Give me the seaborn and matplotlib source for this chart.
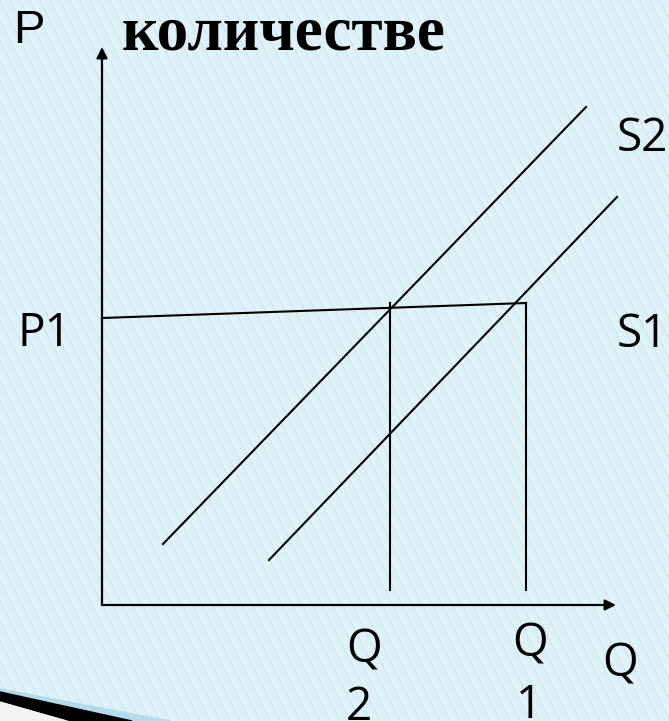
import numpy as np
import pandas as pd
import seaborn as sns
import matplotlib.pyplot as plt
from matplotlib.collections import LineCollection
from matplotlib.patches import Polygon

# Line segments in chart units (Q to the right, P up, origin at the corner of the axes)
seg_names = ['S2', 'S2', 'S1', 'S1', 'P1', 'P1', 'Q2', 'Q2', 'Q1', 'Q1']
seg_q = [61, 484, 167, 515, 0, 424, 288, 288, 424, 424]
seg_p = [61, 498, 45, 408, 287, 302, 302, 15, 302, 15]

# Axis arrow tips
q_tip = 514
p_tip = 558

# Labels: text, q, p (left edge / baseline)
label_text = ['P1', 'S1', 'S2', 'Q', '2', 'Q', '1', 'Q']
label_q = [-84, 515, 515, 244, 244, 410, 414, 500]
label_p = [259, 258, 454, -57, -115, -51, -113, -72]

title_text = 'количестве'
axis_p_label = 'P'

df = pd.DataFrame({'seg': seg_names, 'Q': seg_q, 'P': seg_p})

W, H = 669, 721
x0, y0 = 102, 605   # pixel position of the origin

fig = plt.figure(figsize=(W / 100, H / 100), dpi=100)
fig.patch.set_facecolor('#ddf2f8')
ax = fig.add_axes([0, 0, 1, 1])
ax.set_xlim(-x0, W - x0)
ax.set_ylim(y0 - H, y0)
ax.set_facecolor('#ddf2f8')
ax.axis('off')

# diagonal pattern of the slide background
starts = np.arange(-420, W + 10, 10)
t = np.array([0, H + 20])
stripes = [np.column_stack([s - x0 + 0.5 * t, y0 - t]) for s in starts]
hl = [np.column_stack([s - x0 + 2 + 0.5 * t, y0 - t]) for s in starts]
ax.add_collection(LineCollection(hl, colors='white', linewidths=0.7, alpha=0.45, zorder=0))
ax.add_collection(LineCollection(stripes, colors='#cbe3eb', linewidths=0.7, zorder=0))

# decorative swoosh at the bottom left
def px(pts):
    return [(x - x0, y0 - y) for x, y in pts]

ax.add_patch(Polygon(px([(0, 689), (170, 721), (0, 721)]), closed=True, color='#b3dbea', zorder=1))
ax.add_patch(Polygon(px([(0, 692), (132, 721), (72, 721), (0, 701)]), closed=True, color='black', zorder=2))
ax.add_patch(Polygon(px([(0, 702), (66, 721), (0, 721)]), closed=True, color='#f3f3f3', zorder=2))

# supply curves and guide lines
sns.lineplot(data=df, x='Q', y='P', units='seg', estimator=None, sort=False,
             color='black', linewidth=1.5, ax=ax, legend=False, zorder=3)
ax.set_xlim(-x0, W - x0)
ax.set_ylim(y0 - H, y0)
ax.axis('off')

# axes with arrows
arrow = dict(arrowstyle='-|>', color='black', lw=1.6, mutation_scale=16, shrinkA=0, shrinkB=0)
ax.annotate('', xy=(q_tip, 0), xytext=(0, 0), arrowprops=arrow, zorder=4)
ax.annotate('', xy=(0, p_tip), xytext=(0, 0), arrowprops=arrow, zorder=4)

for txt, q, p in zip(label_text, label_q, label_p):
    ax.text(q, p, txt, fontsize=33, family='Open Sans', color='black',
            ha='left', va='baseline', zorder=5)

ax.text(-89, y0 - 43, axis_p_label, fontsize=34, family='Liberation Sans',
        color='black', ha='left', va='baseline', zorder=5)
ax.text(20, y0 - 50, title_text, fontsize=45.5, family='Liberation Serif',
        fontweight='bold', color='black', ha='left', va='baseline', zorder=5)

fig.savefig('out.png', dpi=100, facecolor=fig.get_facecolor())
